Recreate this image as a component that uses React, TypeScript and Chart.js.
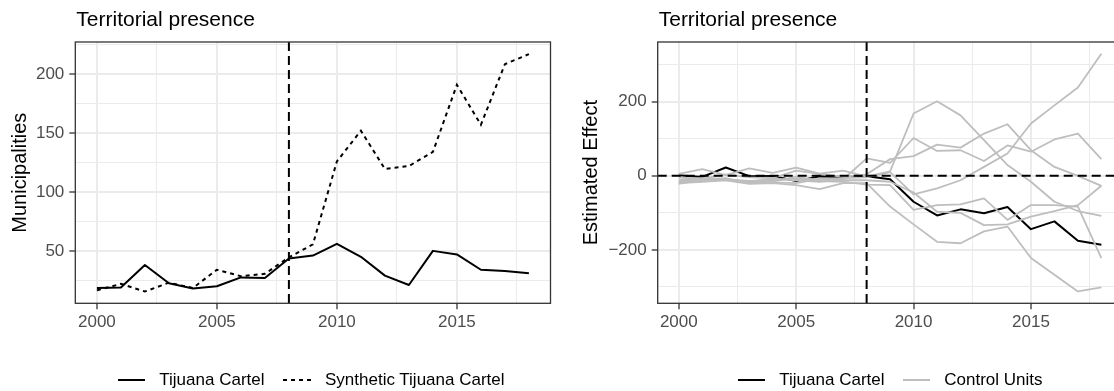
import React, { useEffect, useRef } from "react";
import { Chart, registerables } from "chart.js";

Chart.register(...registerables);

// ---------------- DATA ----------------
const years = [2000, 2001, 2002, 2003, 2004, 2005, 2006, 2007, 2008, 2009, 2010, 2011, 2012, 2013, 2014, 2015, 2016, 2017, 2018];

const tijuanaActual = [18.5, 19, 38, 22.5, 18, 20, 27.5, 27, 43.5, 46, 56, 45, 29, 21, 50, 47, 34, 33, 31];
const tijuanaSynthetic = [16.5, 22, 15.5, 23, 18.5, 34, 28.5, 30.5, 44.5, 55.5, 126, 152, 119.5, 122, 134, 191, 157, 208.5, 217];

const tijuanaEffect = [1.5, -3, 22.5, -1, -0.5, -14, -1.5, -3.5, -1.5, -9.5, -70, -107, -90.5, -101, -84, -144, -123, -175.5, -186];

const control1 = [-15, -12, -10, -14, -12, -8, -10, -6, -4, 10, -50, -34, -12, 24, 60, 141, 190, 238, 329];
const control2 = [5, 18, 2, 20, 8, 22, 6, 14, -2, 12, 168, 201, 163, 96, 29, -16, -70, -95, -108];
const control3 = [-5, -8, 4, -4, -6, 14, 5, -3, 4, 45, 53, 84, 76, 114, 139, 69, 24, 0, -27];
const control4 = [-12, -6, -10, -16, -8, -12, -16, -10, 47, 35, 102, 67, 69, 40, 82, 65, 98, 114, 45];
const control5 = [-20, -16, -12, -22, -20, -25, -36, -20, -20, -83, -131, -178, -182, -150, -137, -222, -267, -312, -301];
const control6 = [-18, -14, -9, -18, -16, -2, -14, -16, -24, -25, -92, -79, -77, -61, -119, -79, -79, -83, -222];
const control7 = [-22, -10, -6, -20, -18, -20, -8, -12, -12, -16, -45, -97, -100, -133, -131, -110, -95, -79, -27];
const controlUnits = [control1, control2, control3, control4, control5, control6, control7];

const xMajorTicks = [2000, 2005, 2010, 2015];
const xMinorTicks = [2002.5, 2007.5, 2012.5, 2017.5];
const leftYMajor = [50, 100, 150, 200];
const leftYMinor = [25, 75, 125, 175, 225];
const rightYMajor = [-200, 0, 200];
const rightYMinor = [-300, -100, 100, 300];
const treatmentYear = 2008;

const panelTitle = "Territorial presence";
const leftYTitle = "Municipalities";
const rightYTitle = "Estimated Effect";
const labelActual = "Tijuana Cartel";
const labelSynthetic = "Synthetic Tijuana Cartel";
const labelControl = "Control Units";

// ---------------- STYLE ----------------
const FONT = '"Liberation Sans", Arial, Helvetica, sans-serif';
const GRID = "#EBEBEB";
const DARK = "#333333";
const GREY_LINE = "#BEBEBE";

const toXY = (vals: number[]) => years.map((yr, i) => ({ x: yr, y: vals[i] }));

const fmtNum = (v: number) => (v < 0 ? "\u2212" + Math.abs(v) : String(v));

const panelDecor = {
  id: "panelDecor",
  afterDatasetsDraw(chart: any, _args: any, opts: any) {
    const { ctx, chartArea: a, scales } = chart;
    ctx.save();
    ctx.strokeStyle = "#000";
    ctx.lineWidth = 2;
    ctx.setLineDash([9, 5]);
    if (opts.vline != null) {
      const x = scales.x.getPixelForValue(opts.vline);
      ctx.beginPath();
      ctx.moveTo(x, a.top);
      ctx.lineTo(x, a.bottom);
      ctx.stroke();
    }
    if (opts.hline != null) {
      const y = scales.y.getPixelForValue(opts.hline);
      ctx.beginPath();
      ctx.moveTo(a.left, y);
      ctx.lineTo(a.right, y);
      ctx.stroke();
    }
    ctx.setLineDash([]);
    ctx.strokeStyle = DARK;
    ctx.lineWidth = 1.3;
    ctx.strokeRect(a.left, a.top, a.right - a.left, a.bottom - a.top);
    ctx.fillStyle = "#000";
    ctx.font = `21px ${FONT}`;
    ctx.textBaseline = "alphabetic";
    ctx.textAlign = "left";
    ctx.fillText(opts.title, a.left + 1, 26);
    ctx.restore();
  },
};

function makeConfig(p: {
  datasets: any[];
  yMin: number;
  yMax: number;
  yMajor: number[];
  yMinor: number[];
  yTitle: string;
  yAxisWidth: number;
  yTitlePad: number;
  padRight: number;
  hline?: number;
}) {
  const xAll = [...xMajorTicks, ...xMinorTicks].sort((a, b) => a - b);
  const yAll = [...p.yMajor, ...p.yMinor].sort((a, b) => a - b);
  return {
    type: "line",
    data: { datasets: p.datasets },
    plugins: [panelDecor],
    options: {
      animation: false,
      responsive: false,
      maintainAspectRatio: false,
      events: [],
      layout: { padding: { top: 42, left: 0, right: p.padRight, bottom: 60.7 } },
      elements: { point: { radius: 0 }, line: { tension: 0 } },
      plugins: {
        legend: { display: false },
        tooltip: { enabled: false },
        panelDecor: { vline: treatmentYear, hline: p.hline, title: panelTitle },
      },
      scales: {
        x: {
          type: "linear",
          min: 1999.1,
          max: 2018.9,
          afterBuildTicks: (s: any) => {
            s.ticks = xAll.map((v) => ({ value: v }));
          },
          afterFit: (s: any) => {
            s.height = 27;
          },
          border: { display: false },
          grid: {
            color: GRID,
            lineWidth: (c: any) => (xMajorTicks.includes(c.tick?.value) ? 2 : 1),
            drawTicks: true,
            tickLength: 6,
            tickWidth: 1.3,
            tickColor: (c: any) => (xMajorTicks.includes(c.tick?.value) ? DARK : "rgba(0,0,0,0)"),
          },
          ticks: {
            autoSkip: false,
            maxRotation: 0,
            padding: 3,
            color: "#4D4D4D",
            font: { family: FONT, size: 17 },
            callback: (v: any) => (xMajorTicks.includes(Number(v)) ? String(v) : ""),
          },
        },
        y: {
          type: "linear",
          min: p.yMin,
          max: p.yMax,
          afterBuildTicks: (s: any) => {
            s.ticks = yAll.map((v) => ({ value: v }));
          },
          afterFit: (s: any) => {
            s.width = p.yAxisWidth;
          },
          border: { display: false },
          grid: {
            color: GRID,
            lineWidth: (c: any) => (p.yMajor.includes(c.tick?.value) ? 2 : 1),
            drawTicks: true,
            tickLength: 6,
            tickWidth: 1.3,
            tickColor: (c: any) => (p.yMajor.includes(c.tick?.value) ? DARK : "rgba(0,0,0,0)"),
          },
          ticks: {
            autoSkip: false,
            padding: 5,
            color: "#4D4D4D",
            font: { family: FONT, size: 17 },
            callback: (v: any) => (p.yMajor.includes(Number(v)) ? fmtNum(Number(v)) : ""),
          },
          title: {
            display: true,
            text: p.yTitle,
            color: "#000",
            font: { family: FONT, size: 20 },
            padding: { top: p.yTitlePad, bottom: 0 },
          },
        },
      },
    },
  } as any;
}

function LegendKey({ left, dash, color }: { left: number; dash?: string; color: string }) {
  return (
    <svg style={{ position: "absolute", left, top: 375 }} width={30} height={10}>
      <line x1={0} y1={5} x2={dash ? 30 : 27} y2={5} stroke={color} strokeWidth={2} strokeDasharray={dash} />
    </svg>
  );
}

function LegendText({ left, text }: { left: number; text: string }) {
  return (
    <div
      style={{
        position: "absolute",
        left,
        top: 370,
        font: `17px ${FONT}`,
        lineHeight: "20px",
        color: "#000",
        whiteSpace: "nowrap",
      }}
    >
      {text}
    </div>
  );
}

export default function App() {
  const leftRef = useRef<HTMLCanvasElement>(null);
  const rightRef = useRef<HTMLCanvasElement>(null);

  useEffect(() => {
    const left = new Chart(
      leftRef.current as HTMLCanvasElement,
      makeConfig({
        datasets: [
          {
            label: labelActual,
            data: toXY(tijuanaActual),
            borderColor: "#000",
            borderWidth: 2,
            borderJoinStyle: "round",
            fill: false,
          },
          {
            label: labelSynthetic,
            data: toXY(tijuanaSynthetic),
            borderColor: "#000",
            borderWidth: 2,
            borderDash: [4, 4],
            fill: false,
          },
        ],
        yMin: 5.5,
        yMax: 227.3,
        yMajor: leftYMajor,
        yMinor: leftYMinor,
        yTitle: leftYTitle,
        yAxisWidth: 75.3,
        yTitlePad: 8.8,
        padRight: 9.5,
      })
    );
    const right = new Chart(
      rightRef.current as HTMLCanvasElement,
      makeConfig({
        datasets: [
          ...controlUnits.map((vals, i) => ({
            label: `${labelControl} ${i + 1}`,
            data: toXY(vals),
            borderColor: GREY_LINE,
            borderWidth: 1.8,
            borderJoinStyle: "round",
            fill: false,
          })),
          {
            label: labelActual,
            data: toXY(tijuanaEffect),
            borderColor: "#000",
            borderWidth: 2,
            borderJoinStyle: "round",
            fill: false,
          },
        ],
        yMin: -344,
        yMax: 361,
        yMajor: rightYMajor,
        yMinor: rightYMinor,
        yTitle: rightYTitle,
        yAxisWidth: 97.7,
        yTitlePad: 19,
        padRight: 17.5,
        hline: 0,
      })
    );
    return () => {
      left.destroy();
      right.destroy();
    };
  }, []);

  return (
    <div
      style={{
        position: "fixed",
        left: 0,
        top: 0,
        width: 1114,
        height: 391,
        overflow: "hidden",
        background: "#fff",
      }}
    >
      <canvas
        ref={leftRef}
        width={560}
        height={391}
        style={{ position: "absolute", left: 0, top: 0, width: 560, height: 391 }}
      />
      <canvas
        ref={rightRef}
        width={580}
        height={391}
        style={{ position: "absolute", left: 560, top: 0, width: 580, height: 391 }}
      />
      <LegendKey left={118} color="#000" />
      <LegendText left={159.3} text={labelActual} />
      <LegendKey left={283} color="#000" dash="4 4" />
      <LegendText left={325} text={labelSynthetic} />
      <LegendKey left={738.3} color="#000" />
      <LegendText left={779.3} text={labelActual} />
      <LegendKey left={902.7} color={GREY_LINE} />
      <LegendText left={944.3} text={labelControl} />
    </div>
  );
}
